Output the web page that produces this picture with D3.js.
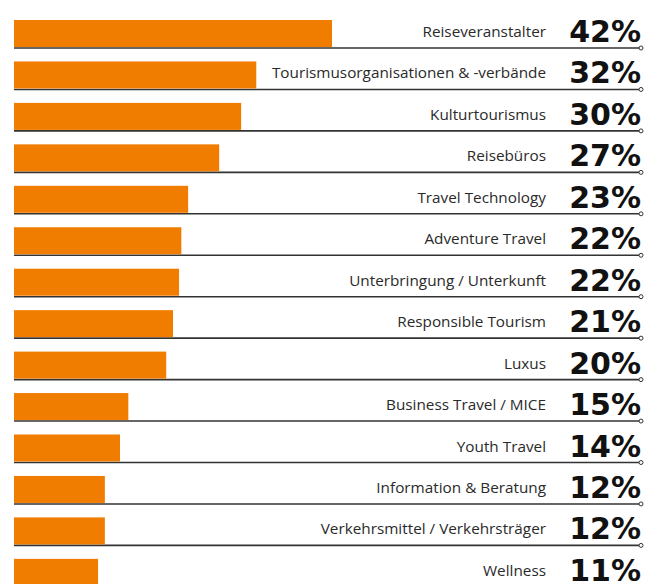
<!DOCTYPE html>
<html>
<head>
<meta charset="utf-8">
<script src="https://cdn.jsdelivr.net/npm/d3@7"></script>
<style>
  html, body { margin: 0; padding: 0; background: #fff; }
  svg { display: block; }
</style>
</head>
<body>
<svg id="chart" width="656" height="584"></svg>
<script>
const categories = [
  "Reiseveranstalter",
  "Tourismusorganisationen & -verbände",
  "Kulturtourismus",
  "Reisebüros",
  "Travel Technology",
  "Adventure Travel",
  "Unterbringung / Unterkunft",
  "Responsible Tourism",
  "Luxus",
  "Business Travel / MICE",
  "Youth Travel",
  "Information & Beratung",
  "Verkehrsmittel / Verkehrsträger",
  "Wellness"
];
const values = [42, 32, 30, 27.1, 23, 22.1, 21.8, 21, 20.1, 15.1, 14, 12, 12, 11.1];

const svg = d3.select("#chart");

const x = d3.scaleLinear().domain([0, 42]).range([14, 332]);
const y = d3.scaleBand().domain(categories).range([20, 20 + 41.45 * categories.length]).padding(0);
const barH = 27;

const data = categories.map((c, i) => ({ c, v: values[i] }));

const g = svg.append("g");

const rows = g.selectAll("g.row").data(data).join("g").attr("class", "row");

rows.append("line")
  .attr("x1", x(0)).attr("x2", 640)
  .attr("y1", d => y(d.c) + barH + 1)
  .attr("y2", d => y(d.c) + barH + 1)
  .attr("stroke", "#333").attr("stroke-width", 1.6);

rows.append("circle")
  .attr("cx", 641).attr("cy", d => y(d.c) + barH + 1)
  .attr("r", 2).attr("fill", "#fff").attr("stroke", "#333").attr("stroke-width", 1);

rows.append("rect")
  .attr("x", x(0)).attr("y", d => y(d.c))
  .attr("width", d => x(d.v) - x(0)).attr("height", barH)
  .attr("fill", "#F07D00");

rows.append("text")
  .attr("x", 546).attr("y", d => y(d.c) + 17)
  .attr("text-anchor", "end")
  .attr("font-family", "'Open Sans', sans-serif")
  .attr("font-size", 15.3)
  .attr("fill", "#2a2a2a")
  .text(d => d.c);

rows.append("text")
  .attr("x", 641).attr("y", d => y(d.c) + 22)
  .attr("text-anchor", "end")
  .attr("font-family", "'DejaVu Sans', sans-serif")
  .attr("font-weight", "bold")
  .attr("font-size", 30)
  .attr("fill", "#111")
  .text(d => Math.round(d.v) + "%");
</script>
</body>
</html>
